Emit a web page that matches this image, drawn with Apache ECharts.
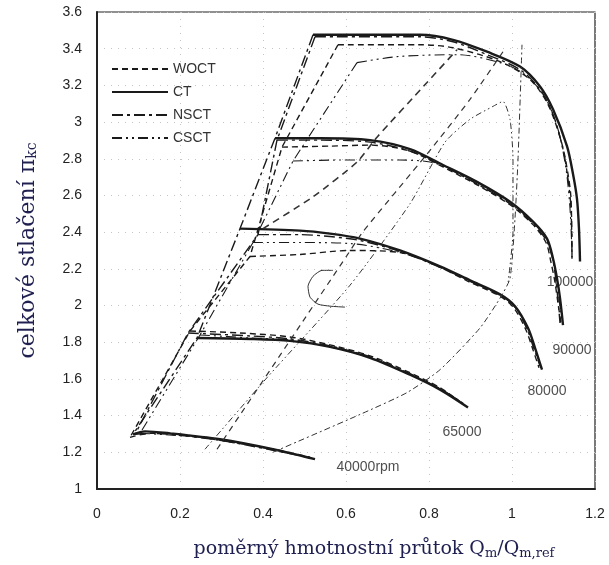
<!DOCTYPE html>
<html>
<head>
<meta charset="utf-8">
<script src="https://cdn.jsdelivr.net/npm/echarts@6/dist/echarts.min.js"></script>
<style>
  html, body { margin: 0; padding: 0; background: #fff; }
  #chart { width: 609px; height: 565px; }
</style>
</head>
<body>
<div id="chart"></div>
<script>
// speed lines, [Qm/Qm,ref, pi_kc], one array per configuration and speed
const ct100 = [[0.5205,3.4756],[0.6337,3.4756],[0.7783,3.4756],[0.8578,3.4485],[0.9398,3.3835],[1.0193,3.3023],[1.0675,3.1939],[1.0988,3.0693],[1.1325,2.8689],[1.1470,2.7172],[1.1566,2.5818],[1.1614,2.4193],[1.1639,2.2405]];
const nsct100 = [[0.5253,3.4648],[0.7783,3.4648],[0.8578,3.4377],[0.9398,3.3673],[1.0193,3.2860],[1.0675,3.1777],[1.0988,3.0423],[1.1229,2.8527],[1.1349,2.6901],[1.1422,2.5276],[1.1446,2.2459]];
const woct100 = [[0.5807,3.4215],[0.7783,3.4215],[0.8578,3.4052],[0.9711,3.3294],[1.0434,3.2318],[1.0867,3.0964],[1.1205,2.8797],[1.1349,2.7172],[1.1422,2.5818],[1.1446,2.2459]];
const csct100 = [[0.6265,3.3240],[0.7229,3.3565],[0.8675,3.3673],[0.9711,3.3240],[1.0313,3.2590],[1.0795,3.1344],[1.1108,2.9610],[1.1301,2.7443],[1.1398,2.5276],[1.1446,2.2838]];

const ct90 = [[0.4289,2.9122],[0.5373,2.9122],[0.6578,2.9014],[0.7542,2.8527],[0.8337,2.7660],[0.9157,2.6739],[0.9952,2.5655],[1.0506,2.4572],[1.0843,2.3651],[1.0988,2.2568],[1.1084,2.1484],[1.1157,2.0401],[1.1229,1.8938]];
const nsct90 = [[0.4337,2.9014],[0.5373,2.9014],[0.6578,2.8906],[0.7542,2.8418],[0.8337,2.7606],[0.9157,2.6631],[0.9952,2.5547],[1.0506,2.4464],[1.0843,2.3489],[1.0988,2.2459],[1.1060,2.1376],[1.1108,2.0293],[1.1157,1.9047]];
const woct90 = [[0.4458,2.8635],[0.5614,2.8689],[0.6578,2.8743],[0.7542,2.8418],[0.8337,2.7552],[0.9157,2.6576],[0.9952,2.5493],[1.0506,2.4410],[1.0819,2.3435],[1.0940,2.2351],[1.1036,2.1268],[1.1108,2.0130],[1.1181,1.9047]];
const csct90 = [[0.4723,2.7877],[0.5855,2.7931],[0.7301,2.7931],[0.8024,2.7822],[0.8506,2.7443],[0.9157,2.6631],[0.9952,2.5601],[1.0506,2.4518],[1.0843,2.3597],[1.0988,2.2514],[1.1084,2.1430],[1.1133,2.0347],[1.1205,1.9209]];

const ct80 = [[0.3446,2.4193],[0.4892,2.4085],[0.5614,2.3922],[0.6337,2.3651],[0.7301,2.3001],[0.8265,2.2134],[0.8988,2.1376],[0.9711,2.0617],[1.0072,1.9967],[1.0386,1.8776],[1.0554,1.7692],[1.0723,1.6501]];
const nsct80 = [[0.3880,2.3868],[0.4892,2.3868],[0.5614,2.3760],[0.6337,2.3543],[0.7301,2.2947],[0.8265,2.2080],[0.8988,2.1322],[0.9711,2.0563],[1.0072,1.9913],[1.0361,1.8722],[1.0530,1.7638],[1.0675,1.6717]];
const woct80 = [[0.3687,2.2676],[0.4892,2.2784],[0.6096,2.3001],[0.7301,2.2893],[0.8265,2.2080],[0.8988,2.1268],[0.9711,2.0509],[1.0048,1.9859],[1.0337,1.8667],[1.0506,1.7584],[1.0651,1.6609]];
const csct80 = [[0.3759,2.3435],[0.4892,2.3435],[0.6096,2.3380],[0.7301,2.2893],[0.8265,2.2134],[0.8988,2.1322],[0.9711,2.0563],[1.0072,1.9913],[1.0386,1.8722],[1.0554,1.7638],[1.0699,1.6609]];

const ct65 = [[0.2410,1.8234],[0.3687,1.8180],[0.4651,1.8072],[0.5614,1.7746],[0.6578,1.7151],[0.7542,1.6230],[0.8265,1.5417],[0.8940,1.4442]];
const nsct65 = [[0.2193,1.8505],[0.3687,1.8342],[0.4651,1.8180],[0.5614,1.7801],[0.6578,1.7205],[0.7542,1.6284],[0.8265,1.5471],[0.8795,1.4713]];
const woct65 = [[0.2241,1.8613],[0.3446,1.8505],[0.4651,1.8288],[0.5614,1.7855],[0.6578,1.7259],[0.7542,1.6338],[0.8265,1.5525],[0.8747,1.4767]];
const csct65 = [[0.2482,1.8397],[0.3687,1.8234],[0.4651,1.8126],[0.5614,1.7746],[0.6578,1.7151],[0.7542,1.6230],[0.8265,1.5471],[0.8867,1.4605]];

const ct40 = [[0.0867,1.2979],[0.1157,1.3142],[0.1759,1.3034],[0.2964,1.2709],[0.4241,1.2167],[0.5253,1.1625]];
const nsct40 = [[0.0916,1.2979],[0.1277,1.3034],[0.1759,1.2979],[0.2964,1.2654],[0.4241,1.2113],[0.5181,1.1679]];
const woct40 = [[0.0795,1.2817],[0.1277,1.3034],[0.2000,1.2979],[0.2964,1.2654],[0.4241,1.2167],[0.5133,1.1733]];
const csct40 = [[0.1036,1.3034],[0.1518,1.2979],[0.2964,1.2709],[0.4241,1.2167],[0.5205,1.1679]];

// loci crossing the speed lines
const lineA = [[0.4000,2.4193],[0.5205,2.5926],[0.6265,2.7822],[0.6747,2.9176],[0.7952,3.2156],[0.8675,3.3944]];
const lineB = [[0.2892,1.2167],[0.4964,1.9155],[0.6024,2.2730],[0.6410,2.4030],[0.7952,2.8256],[0.8988,3.1235],[0.9783,3.3835]];
const lineE = [[0.2602,1.2167],[0.4096,1.6067],[0.6096,2.1105],[0.7542,2.5547],[0.8386,2.8906],[0.8988,3.0152],[0.9542,3.0856],[0.9783,3.1127],[0.9952,3.0152],[1.0024,2.7985],[1.0024,2.4030],[0.9904,2.1213]];
const lineC = [[0.4241,1.2004],[0.6337,1.4063],[0.7470,1.5255],[0.8265,1.6501],[0.9229,1.8776],[0.9711,2.0401],[0.9952,2.1484],[1.0072,2.4734],[1.0145,2.7985],[1.0241,3.4215]];
const arrowPts = [[0.5687,2.1918],[0.5422,2.1918],[0.5205,2.1593],[0.5084,2.1051],[0.5133,2.0455],[0.5325,2.0076],[0.5614,1.9967],[0.5976,1.9913]];

// speed labels [x, y, text]
const speedLabels = [[1.1398,2.125,'100000'],[1.1446,1.758,'90000'],[1.0843,1.536,'80000'],[0.8795,1.309,'65000'],[0.6530,1.119,'40000rpm']];

const xTicks = { min: 0, max: 1.2, step: 0.2 };
const yTicks = { min: 1, max: 3.6, step: 0.2 };

const ink = '#1a1a1a';
const titleColor = '#1f2050';
const configs = [
    { name: 'WOCT', lines: [woct100, woct90, woct80, woct65, woct40], type: [6, 4], width: 1.4 },
    { name: 'CT', lines: [ct100, ct90, ct80, ct65, ct40], type: 'solid', width: 2.4 },
    { name: 'NSCT', lines: [nsct100, nsct90, nsct80, nsct65, nsct40], type: [11, 4, 3, 4], width: 1.4 },
    { name: 'CSCT', lines: [csct100, csct90, csct80, csct65, csct40], type: [10, 4, 2, 4, 2, 4], width: 1.1 },
];

const series = [];
configs.forEach((c) => {
    c.lines.forEach((l) => {
        series.push({
            name: c.name, type: 'line', data: l, smooth: 0.3, symbol: 'none',
            lineStyle: { color: ink, width: c.width, type: c.type },
        });
    });
    // surge line through the first point of each speed line
    series.push({
        name: c.name, type: 'line', data: c.lines.map((l) => l[0]), symbol: 'none',
        lineStyle: { color: ink, width: c.name === 'CT' ? 1.4 : c.width, type: c.name === 'CT' ? [11, 4, 3, 4] : c.type },
    });
});

const extra = [
    { data: lineA, type: [7, 5], width: 1.6 },
    { data: lineB, type: [6, 5], width: 1.2 },
    { data: lineE, type: [6, 3, 1.5, 3, 1.5, 3], width: 1 },
    { data: lineC, type: [6, 3, 2, 3], width: 1 },
    { data: arrowPts, type: 'solid', width: 1 },
];
extra.forEach((e, i) => {
    series.push({
        name: 'locus' + i, type: 'line', data: e.data, smooth: 0.2, symbol: 'none',
        lineStyle: { color: '#333', width: e.width, type: e.type },
    });
});

series.push({
    name: 'labels', type: 'scatter', data: speedLabels, symbolSize: 0,
    label: {
        show: true, position: 'inside', formatter: (p) => p.value[2],
        color: '#222', fontSize: 14, fontFamily: 'Liberation Sans',
    },
});

const chart = echarts.init(document.getElementById('chart'));
chart.setOption({
    animation: false,
    grid: { left: 97, right: 14, top: 12, bottom: 73, show: true, borderColor: '#222', borderWidth: 1.2 },
    legend: {
        data: configs.map((c) => c.name),
        orient: 'vertical', left: 106, top: 57,
        itemWidth: 56, itemHeight: 14, itemGap: 9,
        itemStyle: { opacity: 0 },
        textStyle: { fontSize: 14, fontFamily: 'Liberation Sans', color: '#333' },
    },
    xAxis: {
        type: 'value', min: xTicks.min, max: xTicks.max, interval: xTicks.step,
        axisLine: { show: true, lineStyle: { color: '#222', width: 2 } },
        axisTick: { show: false },
        axisLabel: { margin: 18, fontSize: 14, color: '#222', fontFamily: 'Liberation Sans' },
        splitLine: { show: true, lineStyle: { color: '#c4c4c4', type: [1, 6] } },
        name: '{a|poměrný hmotnostní průtok Q}{s|m}{a|/Q}{s|m,ref}',
        nameLocation: 'middle', nameGap: 48,
        nameTextStyle: {
            padding: [0, 0, 0, 56],
            rich: {
                a: { fontSize: 19, fontFamily: 'DejaVu Serif', color: titleColor, lineHeight: 24 },
                s: { fontSize: 13, fontFamily: 'DejaVu Serif', color: titleColor, lineHeight: 24, padding: [9, 0, 0, 0] },
            },
        },
    },
    yAxis: {
        type: 'value', min: yTicks.min, max: yTicks.max, interval: yTicks.step,
        axisLine: { show: true, lineStyle: { color: '#222', width: 2 } },
        axisTick: { show: false },
        axisLabel: { margin: 15, fontSize: 14, color: '#222', fontFamily: 'Liberation Sans' },
        splitLine: { show: true, lineStyle: { color: '#c4c4c4', type: [1, 6] } },
        name: '{a|celkové stlačení π}{s|kc}',
        nameLocation: 'middle', nameGap: 56, nameRotate: 90,
        nameTextStyle: {
            rich: {
                a: { fontSize: 22, fontFamily: 'DejaVu Serif', color: titleColor, lineHeight: 26 },
                s: { fontSize: 14, fontFamily: 'DejaVu Serif', color: titleColor, lineHeight: 26, padding: [9, 0, 0, 0] },
            },
        },
    },
    series: series,
});
</script>
</body>
</html>
